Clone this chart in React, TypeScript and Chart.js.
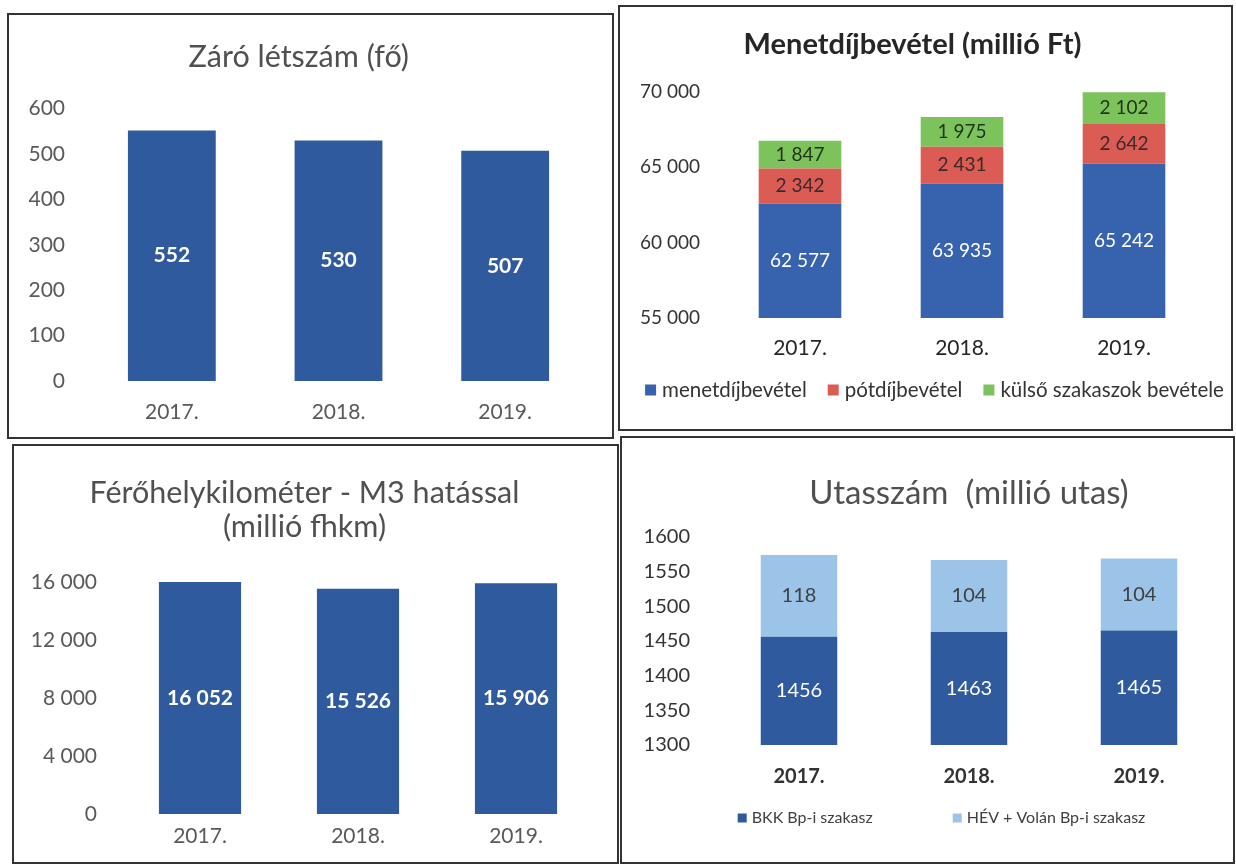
import React, { useEffect, useRef } from 'react';
import { Chart, registerables } from 'chart.js';

Chart.register(...registerables);

// ---------- data ----------
const years = ['2017.', '2018.', '2019.'];

const zaroLetszam = [552, 530, 507];
const letszamTicks = [0, 100, 200, 300, 400, 500, 600];

const menetdijbevetel = [62577, 63935, 65242];
const potdijbevetel = [2342, 2431, 2642];
const kulsoSzakaszokBevetele = [1847, 1975, 2102];
const bevetelTicks = [55000, 60000, 65000, 70000];

const ferohelyKm = [16052, 15526, 15906];
const ferohelyTicks = [0, 4000, 8000, 12000, 16000];

const bkkUtas = [1456, 1463, 1465];
const hevVolanUtas = [118, 104, 104];
const utasTicks = [1300, 1350, 1400, 1450, 1500, 1550, 1600];

// ---------- styles ----------
const FONT = 'Lato, "Open Sans", "DejaVu Sans", sans-serif';
const BLUE = '#2F5A9E';
const BLUE2 = '#3763AE';
const RED = '#DB5B55';
const GREEN = '#7DC35B';
const LIGHTBLUE = '#9CC3E8';
const GRAY = '#595959';
const DARK = '#262626';

const spaced = (v: number) => String(v).replace(/\B(?=(\d{3})+(?!\d))/g, ' ');
const plain = (v: number) => String(v);

function makeValueLabels(format: (v: number) => string, size: number, weight: string) {
  return {
    id: 'valueLabels',
    afterDatasetsDraw(chart: any) {
      const { ctx, chartArea } = chart;
      chart.data.datasets.forEach((ds: any, di: number) => {
        const meta = chart.getDatasetMeta(di);
        if (meta.hidden) return;
        meta.data.forEach((bar: any, i: number) => {
          const p = bar.getProps(['x', 'y', 'base'], true);
          const top = Math.max(Math.min(p.y, p.base), chartArea.top);
          const bottom = Math.min(Math.max(p.y, p.base), chartArea.bottom);
          ctx.save();
          ctx.font = `${weight} ${size}px ${FONT}`;
          ctx.fillStyle = ds.valueColor || '#fff';
          ctx.textAlign = 'center';
          ctx.textBaseline = 'middle';
          ctx.fillText(format(ds.data[i]), p.x, (top + bottom) / 2);
          ctx.restore();
        });
      });
    },
  };
}

function makeLegend(o: { y: number; cx: number; size: number; box: number; boxGap: number; gap: number; color: string }) {
  return {
    id: 'bottomLegend',
    afterDraw(chart: any) {
      const { ctx } = chart;
      ctx.save();
      ctx.font = `normal ${o.size}px ${FONT}`;
      const items = chart.data.datasets.map((ds: any) => ({
        text: ds.label as string,
        color: ds.backgroundColor as string,
        w: o.box + o.boxGap + ctx.measureText(ds.label).width,
      }));
      const total = items.reduce((s: number, it: any) => s + it.w, 0) + o.gap * (items.length - 1);
      let x = o.cx - total / 2;
      items.forEach((it: any) => {
        ctx.fillStyle = it.color;
        ctx.fillRect(x, o.y - o.box / 2, o.box, o.box);
        ctx.fillStyle = o.color;
        ctx.textAlign = 'left';
        ctx.textBaseline = 'middle';
        ctx.fillText(it.text, x + o.box + o.boxGap, o.y);
        x += it.w + o.gap;
      });
      ctx.restore();
    },
  };
}

const noGrid = { display: false, drawTicks: false };
const noBorder = { display: false };

function baseOptions(extra: any) {
  return {
    responsive: false,
    animation: false,
    devicePixelRatio: 1,
    ...extra,
  };
}

// ---------- chart configs ----------
function cfgLetszam() {
  return {
    type: 'bar',
    data: {
      labels: years,
      datasets: [{ label: 'Záró létszám', data: zaroLetszam, backgroundColor: BLUE, valueColor: '#ffffff' }],
    },
    options: baseOptions({
      layout: { padding: { left: 0, right: 23.5, top: 24, bottom: 0 } },
      datasets: { bar: { categoryPercentage: 0.527, barPercentage: 1 } },
      plugins: {
        legend: { display: false },
        tooltip: { enabled: false },
        title: {
          display: true,
          text: 'Záró létszám (fő)',
          color: '#505050',
          font: { family: FONT, size: 30.5, weight: 'normal', lineHeight: 1.2 },
          padding: { top: 0, bottom: 33 },
        },
      },
      scales: {
        x: {
          grid: noGrid,
          border: noBorder,
          ticks: { color: GRAY, font: { family: FONT, size: 21 }, padding: 18.4, maxRotation: 0 },
          afterFit: (s: any) => { s.height = 56; },
        },
        y: {
          min: letszamTicks[0],
          max: letszamTicks[letszamTicks.length - 1],
          grid: noGrid,
          border: noBorder,
          ticks: { stepSize: letszamTicks[1] - letszamTicks[0], color: GRAY, font: { family: FONT, size: 21 }, padding: 23.5 },
          afterFit: (s: any) => { s.width = 79.5; },
        },
      },
    }),
    plugins: [makeValueLabels(plain, 21, 'bold')],
  };
}

function cfgBevetel() {
  return {
    type: 'bar',
    data: {
      labels: years,
      datasets: [
        { label: 'menetdíjbevétel', data: menetdijbevetel, backgroundColor: BLUE2, valueColor: '#ffffff' },
        { label: 'pótdíjbevétel', data: potdijbevetel, backgroundColor: RED, valueColor: '#3a2a2a' },
        { label: 'külső szakaszok bevétele', data: kulsoSzakaszokBevetele, backgroundColor: GREEN, valueColor: '#23341c' },
      ],
    },
    options: baseOptions({
      layout: { padding: { left: 0, right: 26, top: 20.6, bottom: 0 } },
      datasets: { bar: { categoryPercentage: 0.51, barPercentage: 1 } },
      plugins: {
        legend: { display: false },
        tooltip: { enabled: false },
        title: {
          display: true,
          text: 'Menetdíjbevétel (millió Ft)',
          color: DARK,
          font: { family: FONT, size: 29, weight: 'bold', lineHeight: 1.2 },
          padding: { top: 0, bottom: 29.6 },
        },
      },
      scales: {
        x: {
          stacked: true,
          grid: noGrid,
          border: noBorder,
          ticks: { color: DARK, font: { family: FONT, size: 21 }, padding: 17.4, maxRotation: 0 },
          afterFit: (s: any) => { s.height = 111; },
        },
        y: {
          stacked: true,
          min: bevetelTicks[0],
          max: bevetelTicks[bevetelTicks.length - 1],
          grid: noGrid,
          border: noBorder,
          ticks: {
            stepSize: bevetelTicks[1] - bevetelTicks[0],
            color: '#333333',
            font: { family: FONT, size: 19 },
            padding: 19,
            callback: (v: any) => spaced(Number(v)),
          },
          afterFit: (s: any) => { s.width = 99; },
        },
      },
    }),
    plugins: [
      makeValueLabels(spaced, 19, 'normal'),
      makeLegend({ y: 383, cx: 314.5, size: 20.5, box: 11, boxGap: 6, gap: 21, color: '#333333' }),
    ],
  };
}

function cfgFerohely() {
  return {
    type: 'bar',
    data: {
      labels: years,
      datasets: [{ label: 'Férőhelykilométer', data: ferohelyKm, backgroundColor: BLUE, valueColor: '#ffffff' }],
    },
    options: baseOptions({
      layout: { padding: { left: 0, right: 22, top: 30, bottom: 0 } },
      datasets: { bar: { categoryPercentage: 0.52, barPercentage: 1 } },
      plugins: {
        legend: { display: false },
        tooltip: { enabled: false },
        title: {
          display: true,
          text: ['Férőhelykilométer - M3 hatással', '(millió fhkm)'],
          color: '#505050',
          font: { family: FONT, size: 30.5, weight: 'normal', lineHeight: 34 / 30.5 },
          padding: { top: 0, bottom: 38 },
        },
      },
      scales: {
        x: {
          grid: noGrid,
          border: noBorder,
          ticks: { color: GRAY, font: { family: FONT, size: 21 }, padding: 9.4, maxRotation: 0 },
          afterFit: (s: any) => { s.height = 48; },
        },
        y: {
          min: ferohelyTicks[0],
          max: ferohelyTicks[ferohelyTicks.length - 1],
          grid: noGrid,
          border: noBorder,
          ticks: {
            stepSize: ferohelyTicks[1] - ferohelyTicks[0],
            color: GRAY,
            font: { family: FONT, size: 21 },
            padding: 24,
            callback: (v: any) => spaced(Number(v)),
          },
          afterFit: (s: any) => { s.width = 107; },
        },
      },
    }),
    plugins: [makeValueLabels(spaced, 21, 'bold')],
  };
}

function cfgUtas() {
  return {
    type: 'bar',
    data: {
      labels: years,
      datasets: [
        { label: 'BKK Bp-i szakasz', data: bkkUtas, backgroundColor: BLUE, valueColor: '#ffffff' },
        { label: 'HÉV + Volán Bp-i szakasz', data: hevVolanUtas, backgroundColor: LIGHTBLUE, valueColor: '#404040' },
      ],
    },
    options: baseOptions({
      layout: { padding: { left: 0, right: 9, top: 35.3, bottom: 0 } },
      datasets: { bar: { categoryPercentage: 0.45, barPercentage: 1 } },
      plugins: {
        legend: { display: false },
        tooltip: { enabled: false },
        title: {
          display: true,
          fullSize: false,
          text: 'Utasszám  (millió utas)',
          color: '#505050',
          font: { family: FONT, size: 33, weight: 'normal', lineHeight: 1.2 },
          padding: { top: 0, bottom: 24.1 },
        },
      },
      scales: {
        x: {
          stacked: true,
          grid: noGrid,
          border: noBorder,
          ticks: { color: '#333333', font: { family: FONT, size: 20, weight: 'bold' }, padding: 20, maxRotation: 0 },
          afterFit: (s: any) => { s.height = 117; },
        },
        y: {
          stacked: true,
          min: utasTicks[0],
          max: utasTicks[utasTicks.length - 1],
          grid: noGrid,
          border: noBorder,
          ticks: {
            stepSize: utasTicks[1] - utasTicks[0],
            color: '#333333',
            font: { family: FONT, size: 20 },
            padding: 24,
            callback: (v: any) => plain(Number(v)),
          },
          afterFit: (s: any) => { s.width = 92; },
        },
      },
    }),
    plugins: [
      makeValueLabels(plain, 20, 'normal'),
      makeLegend({ y: 380, cx: 319.5, size: 16, box: 9, boxGap: 5, gap: 80, color: '#404040' }),
    ],
  };
}

// ---------- components ----------
function Panel(props: { left: number; top: number; width: number; height: number; build: () => any }) {
  const { left, top, width, height, build } = props;
  const ref = useRef<HTMLCanvasElement>(null);
  useEffect(() => {
    const chart = new Chart(ref.current as HTMLCanvasElement, build());
    return () => chart.destroy();
  }, []);
  const cw = width - 4;
  const ch = height - 4;
  return (
    <div
      style={{
        position: 'absolute',
        left,
        top,
        width,
        height,
        border: '2px solid #333',
        boxSizing: 'border-box',
        background: '#fff',
      }}
    >
      <canvas ref={ref} width={cw} height={ch} style={{ display: 'block', width: cw, height: ch }} />
    </div>
  );
}

export default function App() {
  return (
    <div style={{ position: 'fixed', left: 0, top: 0, width: 1236, height: 864, background: '#fff', overflow: 'hidden' }}>
      <Panel left={7} top={13} width={607} height={426} build={cfgLetszam} />
      <Panel left={618} top={5} width={615} height={426} build={cfgBevetel} />
      <Panel left={12} top={444} width={607} height={420} build={cfgFerohely} />
      <Panel left={620} top={436} width={615} height={428} build={cfgUtas} />
    </div>
  );
}
